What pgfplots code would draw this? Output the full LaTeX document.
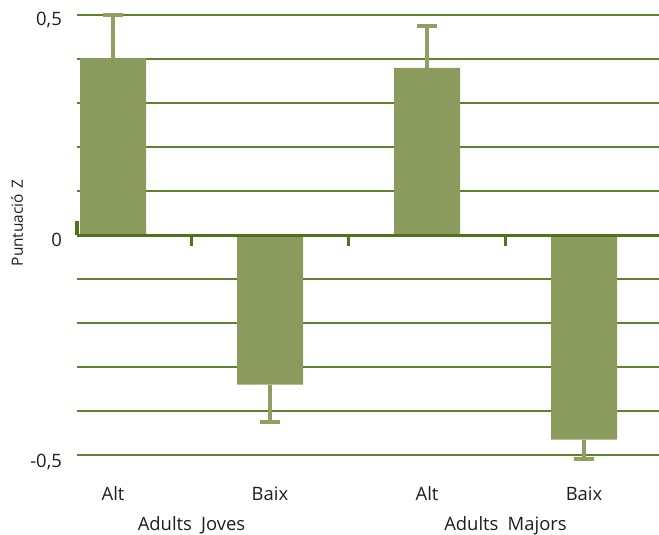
\documentclass[border=0pt]{standalone}
\usepackage{pgfplots}
\pgfplotsset{compat=1.18}
\usepackage{fontspec}
\setmainfont{Open Sans}
\definecolor{barc}{RGB}{138,155,93}
\definecolor{errc}{RGB}{143,160,98}
\definecolor{gridc}{RGB}{96,130,46}
\definecolor{zeroc}{RGB}{76,116,26}
\definecolor{txt}{RGB}{30,30,30}
\begin{document}
\begin{tikzpicture}
\useasboundingbox (0,0) rectangle (659bp,535bp);
\begin{axis}[
  at={(77bp,79.5bp)}, anchor=south west,
  scale only axis, width=582bp, height=440bp,
  xmin=-0.2293, xmax=3.4777, ymin=-0.5, ymax=0.5,
  axis line style={draw=none},
  xtick=\empty,
  ytick={-0.5,-0.4,-0.3,-0.2,-0.1,0.1,0.2,0.3,0.4,0.5},
  yticklabels={,,,,,,,,,},
  major tick length=0,
  ymajorgrids, major grid style={draw=gridc, line width=2bp},
  ybar, bar width=66bp, bar shift=0pt,
  clip=false,
]
\addplot[fill=barc, draw=none,
  error bars/.cd, y dir=plus, y explicit,
  error bar style={errc, line width=4bp},
  error mark options={errc, line width=4bp, mark size=10bp, rotate=90}]
  coordinates {(0,0.403) +- (0,0.098) (2,0.381) +- (0,0.095)};
\addplot[fill=barc, draw=none,
  error bars/.cd, y dir=minus, y explicit,
  error bar style={errc, line width=4bp},
  error mark options={errc, line width=4bp, mark size=10bp, rotate=90}]
  coordinates {(1,-0.339) +- (0,0.085) (3,-0.464) +- (0,0.045)};
\draw[zeroc, line width=3.5bp] (rel axis cs:0,0.5) -- (rel axis cs:1,0.5);
\draw[zeroc, line width=3bp] (rel axis cs:0,0.5) -- ++(0pt,14bp);
\draw[zeroc, line width=3bp] (axis cs:0.5,0) -- ++(0pt,-11bp);
\draw[zeroc, line width=3bp] (axis cs:1.5,0) -- ++(0pt,-11bp);
\draw[zeroc, line width=3bp] (axis cs:2.5,0) -- ++(0pt,-11bp);
\node[anchor=base, font=\fontsize{18.5}{20}\selectfont, text=txt, inner sep=0pt] at (axis cs:0,-0.5) [yshift=-44.5bp] {Alt};
\node[anchor=base, font=\fontsize{18.5}{20}\selectfont, text=txt, inner sep=0pt] at (axis cs:1,-0.5) [yshift=-44.5bp] {Baix};
\node[anchor=base, font=\fontsize{18.5}{20}\selectfont, text=txt, inner sep=0pt] at (axis cs:2,-0.5) [yshift=-44.5bp] {Alt};
\node[anchor=base, font=\fontsize{18.5}{20}\selectfont, text=txt, inner sep=0pt] at (axis cs:3,-0.5) [yshift=-44.5bp] {Baix};
\node[anchor=base, font=\fontsize{18.5}{20}\selectfont, text=txt, inner sep=0pt] at (axis cs:0.5,-0.5) [yshift=-74.5bp] {Adults\hspace{0.5em}Joves};
\node[anchor=base, font=\fontsize{18.5}{20}\selectfont, text=txt, inner sep=0pt] at (axis cs:2.5,-0.5) [yshift=-74.5bp] {Adults\hspace{0.5em}Majors};
\node[anchor=base east, font=\fontsize{18.5}{20}\selectfont, text=txt, inner sep=0pt] at (rel axis cs:0,1) [xshift=-15bp, yshift=-10.5bp] {0,5};
\node[anchor=base east, font=\fontsize{18.5}{20}\selectfont, text=txt, inner sep=0pt] at (rel axis cs:0,0.5) [xshift=-15bp, yshift=-11.5bp] {0};
\node[anchor=base east, font=\fontsize{18.5}{20}\selectfont, text=txt, inner sep=0pt] at (rel axis cs:0,0) [xshift=-15bp, yshift=-11.5bp] {-0,5};
\end{axis}
\node[rotate=90, font=\fontsize{15.5}{17}\selectfont, text=txt, inner sep=0pt] at (17bp,312bp) {Puntuaci\char"00F3\hspace{0.35em}Z};
\end{tikzpicture}
\end{document}
